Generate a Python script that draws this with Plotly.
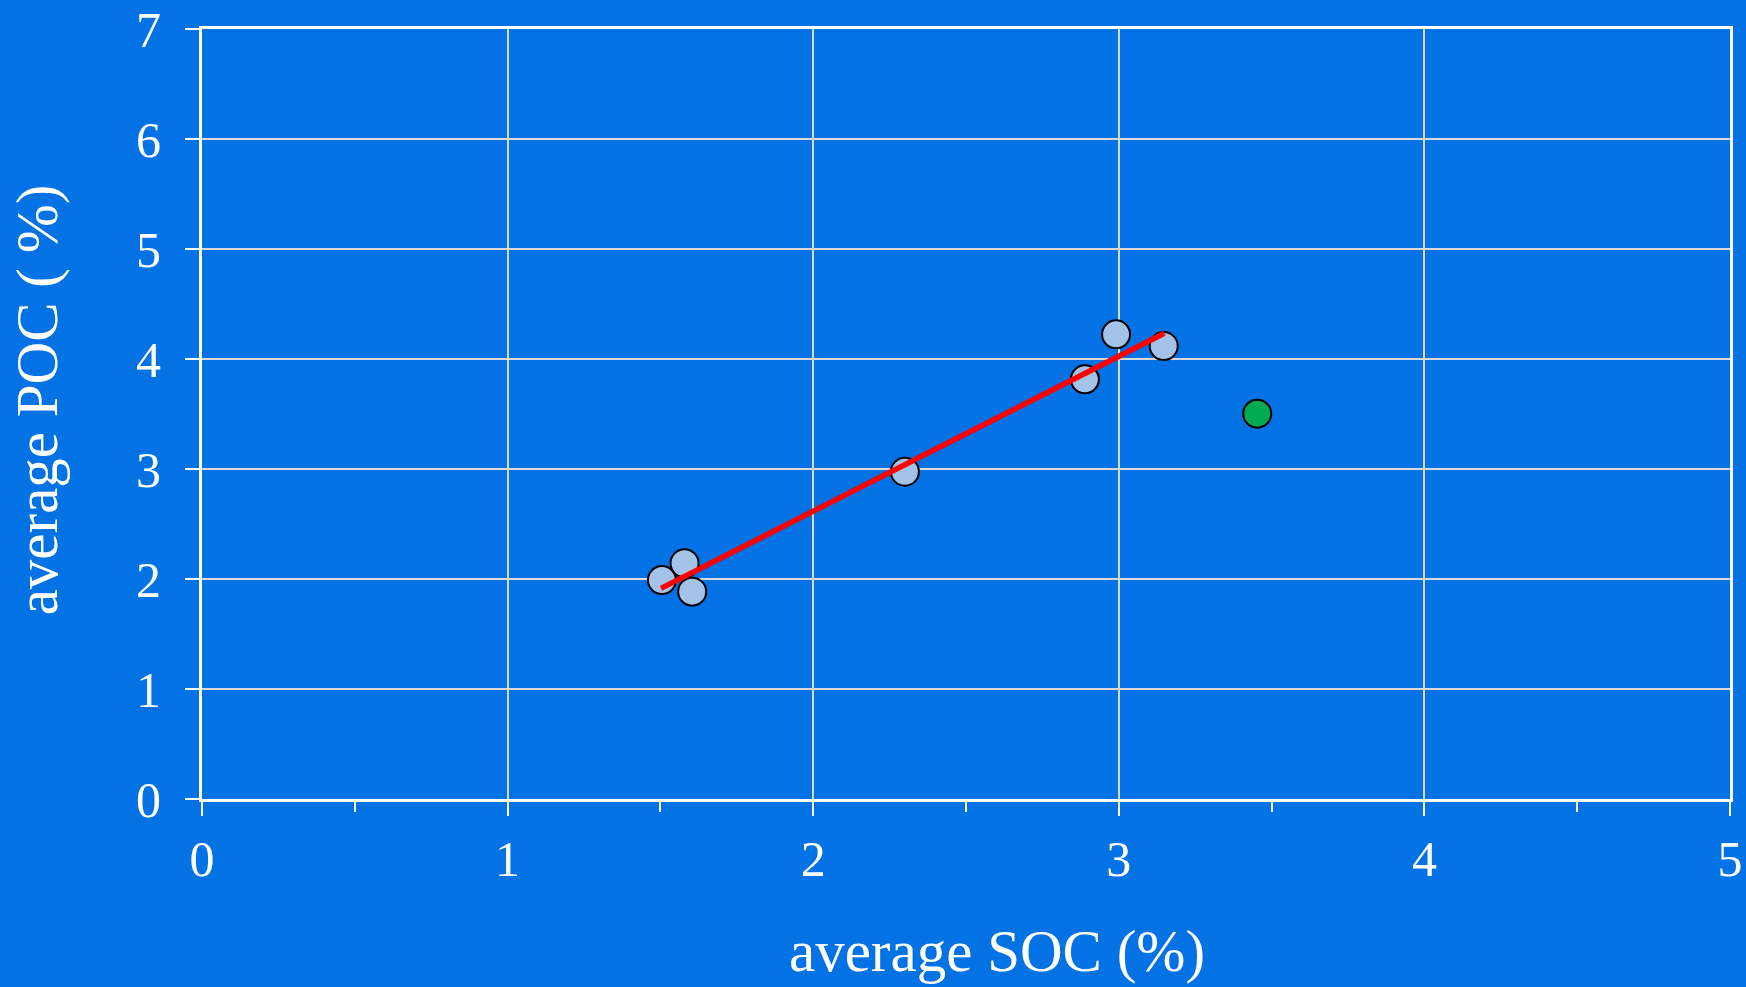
import plotly.graph_objects as go

# Data
soc_points = [1.505, 1.579, 1.604, 2.30, 2.889, 2.991, 3.147]
poc_points = [1.99, 2.143, 1.885, 2.975, 3.815, 4.224, 4.118]
soc_outlier = [3.453]
poc_outlier = [3.503]
fit_soc = [1.502, 3.149]
fit_poc = [1.915, 4.234]

x_ticks = [0, 1, 2, 3, 4, 5]
y_ticks = [0, 1, 2, 3, 4, 5, 6, 7]
x_title = "average SOC (%)"
y_title = "average POC ( %)"

BG = "#0272E4"
FONT = "Liberation Serif"

fig = go.Figure()
fig.add_trace(go.Scatter(
    x=soc_points, y=poc_points, mode="markers",
    marker=dict(size=28, color="#A3C4E8", line=dict(color="black", width=2)),
    showlegend=False, hoverinfo="skip"))
fig.add_trace(go.Scatter(
    x=soc_outlier, y=poc_outlier, mode="markers",
    marker=dict(size=28, color="#00AA50", line=dict(color="black", width=2)),
    showlegend=False, hoverinfo="skip"))
fig.add_trace(go.Scatter(
    x=fit_soc, y=fit_poc, mode="lines",
    line=dict(color="#FF0000", width=5.5),
    showlegend=False, hoverinfo="skip"))

fig.update_layout(
    width=1746, height=987,
    paper_bgcolor=BG, plot_bgcolor=BG,
    margin=dict(l=202, r=16, t=29, b=188),
    font=dict(family=FONT, color="white", size=50),
    xaxis=dict(
        range=[0, 5], tickvals=x_ticks, ticktext=[str(v) for v in x_ticks],
        showline=True, linecolor="white", linewidth=3, mirror=True,
        ticks="outside", ticklen=14, tickwidth=2, tickcolor="white",
        showgrid=True, gridcolor="#D9D9D9", gridwidth=1.5,
        zeroline=False, automargin=False,
        minor=dict(dtick=0.5, ticks="outside", ticklen=10, tickwidth=2,
                   tickcolor="white", showgrid=False),
        tickfont=dict(family=FONT, size=50, color="white"),
        ticklabelstandoff=0,
    ),
    yaxis=dict(
        range=[0, 7], tickvals=y_ticks, ticktext=[str(v) for v in y_ticks],
        showline=True, linecolor="white", linewidth=3, mirror=True,
        ticks="outside", ticklen=14, tickwidth=2, tickcolor="white",
        showgrid=True, gridcolor="#D9D9D9", gridwidth=1.5,
        zeroline=False, automargin=False,
        tickfont=dict(family=FONT, size=50, color="white"),
        ticklabelstandoff=14,
    ),
    annotations=[
        dict(text=x_title, xref="paper", yref="paper", x=0.52, y=-0.197,
             xanchor="center", yanchor="middle", showarrow=False,
             font=dict(family=FONT, size=59, color="white")),
        dict(text=y_title, xref="paper", yref="paper", x=-0.108, y=0.519,
             xanchor="center", yanchor="middle", showarrow=False, textangle=-90,
             font=dict(family=FONT, size=59, color="white")),
    ],
)

fig.write_html(
    "out.html",
    config={"displayModeBar": False},
    post_script="document.body.style.margin='0';document.body.style.background='%s';" % BG,
)
